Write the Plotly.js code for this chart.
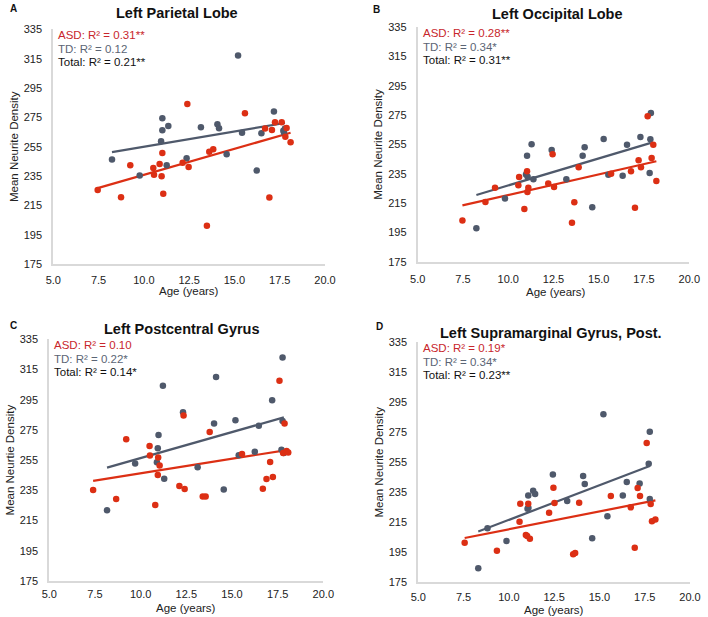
<!DOCTYPE html>
<html>
<head>
<meta charset="utf-8">
<script src="https://cdn.plot.ly/plotly-3.0.1.min.js"></script>
<style>html,body{margin:0;padding:0;background:#fff;}#chart{width:708px;height:617px;}</style>
</head>
<body>
<div id="chart"></div>
<script>
// Panel A: Left Parietal Lobe
const aTdAge = [8.24, 9.77, 11.02, 11.02, 10.95, 11.35, 11.26, 12.36, 13.15, 14.06, 14.15, 14.57, 15.2, 15.42, 16.23, 16.49, 17.18, 17.70, 17.79, 17.74];
const aTdVal = [246.3, 235.4, 274.4, 266.2, 258.7, 269.2, 242.4, 247.2, 268.3, 270.3, 267.6, 249.9, 317.1, 264.6, 238.8, 264.2, 279.0, 266.0, 267.4, 264.5];
const aAsdAge = [7.45, 8.74, 9.25, 10.52, 10.56, 10.87, 10.98, 11.02, 11.07, 12.14, 12.40, 12.47, 13.48, 13.61, 13.83, 15.58, 16.69, 16.93, 17.07, 17.24, 17.61, 17.81, 17.88, 18.10];
const aAsdVal = [225.6, 220.6, 242.4, 240.6, 236.0, 243.3, 234.9, 250.8, 223.1, 244.2, 284.2, 241.3, 201.3, 251.7, 253.3, 277.8, 267.4, 220.4, 266.5, 271.7, 271.7, 261.9, 267.8, 258.1];

// Panel B: Left Occipital Lobe
const bTdAge = [8.24, 9.82, 11.04, 10.98, 11.07, 11.29, 11.39, 12.40, 13.21, 14.11, 14.22, 14.64, 15.27, 15.53, 16.32, 16.56, 17.30, 17.81, 17.85, 17.88];
const bTdVal = [197.8, 218.2, 247.4, 234.6, 233.0, 255.1, 231.2, 251.2, 231.2, 247.4, 253.1, 212.1, 258.8, 234.4, 233.7, 254.9, 260.1, 235.5, 258.5, 276.5];
const bAsdAge = [7.47, 8.74, 9.27, 10.56, 10.60, 10.89, 11.04, 11.06, 11.11, 12.21, 12.45, 12.53, 13.52, 13.65, 13.89, 15.68, 16.78, 17.0, 17.20, 17.33, 17.70, 17.92, 18.01, 18.18];
const bAsdVal = [203.2, 215.7, 225.5, 227.1, 232.8, 211.0, 236.7, 222.6, 225.5, 228.3, 248.3, 226.0, 201.6, 215.5, 239.4, 235.1, 236.7, 211.9, 244.2, 239.4, 274.2, 245.8, 254.9, 230.1];

// Panel C: Left Postcentral Gyrus
const cTdAge = [8.16, 9.70, 10.89, 10.94, 10.98, 11.22, 11.29, 12.32, 13.12, 14.02, 14.13, 14.55, 15.19, 15.37, 16.25, 16.47, 17.20, 17.71, 17.77, 17.77, 17.84];
const cTdVal = [221.8, 252.7, 253.6, 262.8, 271.7, 304.3, 242.7, 286.7, 250.3, 279.2, 310.1, 235.5, 281.4, 258.2, 260.6, 277.8, 294.6, 261.9, 280.9, 322.9, 259.7];
const cAsdAge = [7.40, 8.66, 9.21, 10.49, 10.51, 10.80, 10.94, 10.96, 11.04, 12.12, 12.35, 12.41, 13.40, 13.56, 13.78, 15.55, 16.69, 16.89, 17.09, 17.24, 17.60, 17.80, 17.88, 17.99, 18.08];
const cAsdVal = [235.2, 229.3, 268.8, 264.4, 258.0, 225.3, 245.2, 256.7, 251.4, 237.9, 284.5, 235.9, 231.0, 231.0, 273.6, 259.1, 236.1, 242.5, 253.8, 243.9, 307.6, 259.7, 279.2, 261.1, 260.0];

// Panel D: Left Supramarginal Gyrus, Post.
const dTdAge = [8.31, 8.82, 9.87, 11.07, 11.03, 11.08, 11.34, 11.45, 12.43, 13.22, 14.10, 14.19, 14.60, 15.22, 15.44, 16.29, 16.51, 17.22, 17.72, 17.78, 17.78];
const dTdVal = [184.3, 211.0, 202.6, 232.8, 224.1, 224.6, 236.1, 233.9, 246.8, 229.2, 245.9, 240.6, 204.3, 287.0, 219.0, 232.8, 241.9, 240.8, 254.1, 230.6, 275.4];
const dAsdAge = [7.56, 9.34, 10.59, 10.63, 10.94, 11.01, 11.07, 11.16, 12.22, 12.46, 12.52, 13.55, 13.66, 13.88, 15.63, 16.73, 16.95, 17.11, 17.24, 17.61, 17.83, 17.90, 18.09];
const dAsdVal = [201.4, 196.1, 215.4, 227.4, 206.6, 205.9, 227.4, 204.1, 221.4, 238.1, 227.9, 193.7, 194.6, 228.1, 232.6, 225.0, 198.1, 237.9, 232.6, 267.9, 227.2, 215.7, 216.8];

const panelTitles = ["Left Parietal Lobe", "Left Occipital Lobe", "Left Postcentral Gyrus", "Left Supramarginal Gyrus, Post."];
const panelLetters = ["A", "B", "C", "D"];
const xTitle = "Age (years)";
const yTitles = ["Mean Neurite Density", "Mean Neurite Density", "Mean Neurtie Density", "Mean Neurite Density"];
const asdR2 = ["ASD: R² = 0.31**", "ASD: R² = 0.28**", "ASD: R² = 0.10", "ASD: R² = 0.19*"];
const tdR2 = ["TD: R² = 0.12", "TD: R² = 0.34*", "TD: R² = 0.22*", "TD: R² = 0.34*"];
const totR2 = ["Total: R² = 0.21**", "Total: R² = 0.31**", "Total: R² = 0.14*", "Total: R² = 0.23**"];
const xTickVals = [5, 7.5, 10, 12.5, 15, 17.5, 20];
const xTickText = ["5.0", "7.5", "10.0", "12.5", "15.0", "17.5", "20.0"];
const yTickVals = [175, 195, 215, 235, 255, 275, 295, 315, 335];

const panels = [
  {tdX: aTdAge, tdY: aTdVal, asdX: aAsdAge, asdY: aAsdVal},
  {tdX: bTdAge, tdY: bTdVal, asdX: bAsdAge, asdY: bAsdVal},
  {tdX: cTdAge, tdY: cTdVal, asdX: cAsdAge, asdY: cAsdVal},
  {tdX: dTdAge, tdY: dTdVal, asdX: dAsdAge, asdY: dAsdVal}
];

const W = 708, H = 617;
// pixel boxes of plot areas [left, right, top, bottom]
const boxes = [
  [53.3, 325, 29.3, 264.3],
  [417.7, 689.3, 27.3, 261.7],
  [49.3, 323.3, 339.3, 581],
  [418.3, 690, 342.3, 582.3]
];
const titlePos = [[177, 13], [557, 14], [182, 329], [551, 333]];
const letterPos = [[13, 8], [376, 9], [13, 325], [379, 326]];
const xTitlePos = [[189, 291], [556, 292], [186, 608], [554, 609.5]];
const xTickLen = [4, 6, 2, 3];

const RED = "#dc2f14", GRAY = "#4f596b";
const FONT = "Liberation Sans, Arial, sans-serif";

function fit(xs, ys) {
  const n = xs.length;
  let sx = 0, sy = 0, sxx = 0, sxy = 0;
  for (let i = 0; i < n; i++) { sx += xs[i]; sy += ys[i]; sxx += xs[i]*xs[i]; sxy += xs[i]*ys[i]; }
  const b = (n*sxy - sx*sy) / (n*sxx - sx*sx);
  const a = (sy - b*sx) / n;
  const x0 = Math.min(...xs), x1 = Math.max(...xs);
  return {x: [x0, x1], y: [a + b*x0, a + b*x1]};
}

const traces = [];
const layout = {
  width: W, height: H, margin: {l: 0, r: 0, t: 0, b: 0},
  paper_bgcolor: "#fff", plot_bgcolor: "#fff",
  showlegend: false, font: {family: FONT, size: 11, color: "#222"},
  annotations: []
};

panels.forEach((p, i) => {
  const k = i === 0 ? "" : String(i + 1);
  const xa = "x" + k, ya = "y" + k;
  const [l, r, t, b] = boxes[i];
  layout["xaxis" + k] = {
    domain: [l / W, r / W], range: [5, 20], anchor: ya,
    tickvals: xTickVals, ticktext: xTickText,
    showgrid: false, zeroline: false, showline: true, linecolor: "#d9d9d9", linewidth: 2,
    ticks: "outside", ticklen: xTickLen[i], tickcolor: "rgba(0,0,0,0)",
    tickfont: {family: FONT, size: 11, color: "#222"}
  };
  layout["yaxis" + k] = {
    domain: [(H - b) / H, (H - t) / H], range: [175, 335], anchor: xa,
    tickvals: yTickVals,
    showgrid: false, zeroline: false, showline: true, linecolor: "#d9d9d9", linewidth: 2,
    ticks: "outside", ticklen: 7, tickcolor: "rgba(0,0,0,0)",
    tickfont: {family: FONT, size: 11, color: "#222"},
    title: {text: yTitles[i], font: {family: FONT, size: 11.5, color: "#222"}, standoff: 3}
  };
  const ftd = fit(p.tdX, p.tdY), fasd = fit(p.asdX, p.asdY);
  traces.push({x: ftd.x, y: ftd.y, xaxis: xa, yaxis: ya, mode: "lines", line: {color: GRAY, width: 2.2}, hoverinfo: "skip"});
  traces.push({x: fasd.x, y: fasd.y, xaxis: xa, yaxis: ya, mode: "lines", line: {color: RED, width: 2.2}, hoverinfo: "skip"});
  traces.push({x: p.tdX, y: p.tdY, xaxis: xa, yaxis: ya, mode: "markers", name: "TD", marker: {color: GRAY, size: 6.5}});
  traces.push({x: p.asdX, y: p.asdY, xaxis: xa, yaxis: ya, mode: "markers", name: "ASD", marker: {color: RED, size: 6.5}});

  layout.annotations.push({
    xref: "paper", yref: "paper", x: titlePos[i][0] / W, y: 1 - titlePos[i][1] / H,
    xanchor: "center", yanchor: "middle", showarrow: false,
    text: "<b>" + panelTitles[i] + "</b>", font: {family: FONT, size: 14.5, color: "#111"}
  });
  layout.annotations.push({
    xref: "paper", yref: "paper", x: letterPos[i][0] / W, y: 1 - letterPos[i][1] / H,
    xanchor: "center", yanchor: "middle", showarrow: false,
    text: "<b>" + panelLetters[i] + "</b>", font: {family: FONT, size: 10, color: "#111"}
  });
  layout.annotations.push({
    xref: "paper", yref: "paper", x: xTitlePos[i][0] / W, y: 1 - xTitlePos[i][1] / H,
    xanchor: "center", yanchor: "middle", showarrow: false,
    text: xTitle, font: {family: FONT, size: 11.5, color: "#222"}
  });
  const tx = (l + 3) / W;
  const lines = [[asdR2[i], "#c8262c"], [tdR2[i], "#5b6575"], [totR2[i], "#111"]];
  lines.forEach((ln, j) => {
    layout.annotations.push({
      xref: "paper", yref: "paper", x: tx, y: 1 - (t + 6 + j * 13.5) / H,
      xanchor: "left", yanchor: "middle", showarrow: false,
      text: ln[0], font: {family: FONT, size: 11.5, color: ln[1]}
    });
  });
});

Plotly.newPlot("chart", traces, layout, {staticPlot: true, displayModeBar: false});
</script>
</body>
</html>
